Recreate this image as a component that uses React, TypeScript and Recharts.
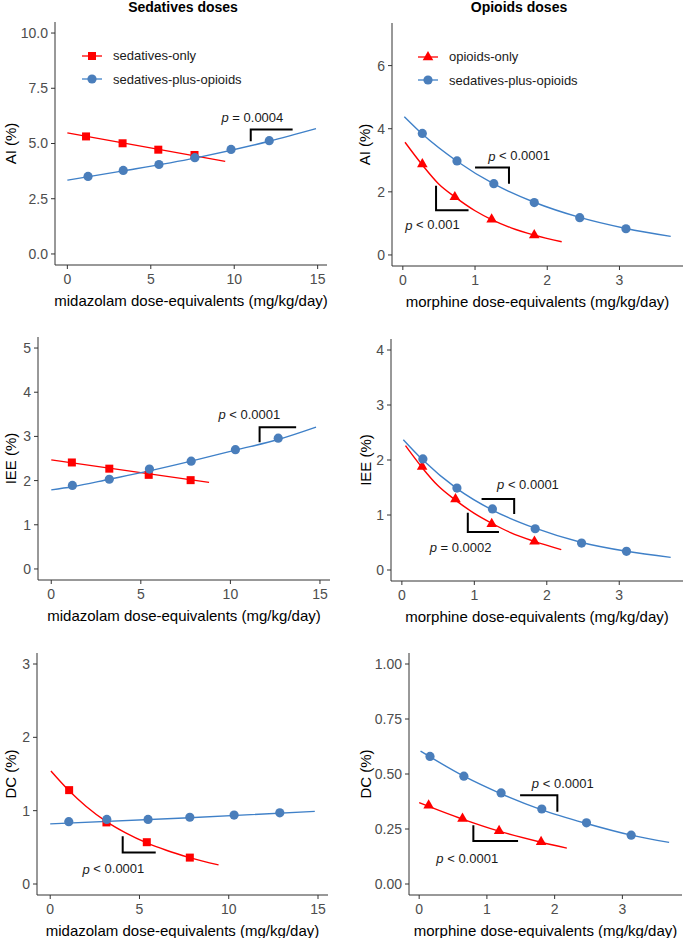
import { ComposedChart, Line, Scatter, XAxis, YAxis, Legend, ReferenceDot, Label } from 'recharts'

type Pt = [number, number]

const FONT = '"Liberation Sans", Arial, Helvetica, sans-serif'
const RED = '#ff0000'
const BLUE = '#4a7ebb'
const BLUE_LINE = '#3f80c8'
const AXIS = '#333333'
const TICK_TXT = '#4d4d4d'

// ---- AI, sedatives doses (top left)
const aiSedOnlyPts: Pt[] = [[1.12, 5.32], [3.31, 5.01], [5.45, 4.72], [7.62, 4.48]]
const aiSedOnlyFit: Pt[] = [[0, 5.48], [9.46, 4.19]]
const aiSedPlusPts: Pt[] = [[1.24, 3.51], [3.35, 3.78], [5.49, 4.05], [7.64, 4.36], [9.81, 4.73], [12.1, 5.13]]
const aiSedPlusFit: Pt[] = [[0, 3.34], [3.35, 3.76], [7.64, 4.34], [12.1, 5.1], [14.9, 5.67]]

// ---- AI, opioids doses (top right)
const aiOpiOnlyPts: Pt[] = [[0.27, 2.88], [0.72, 1.84], [1.23, 1.13], [1.82, 0.63]]
const aiOpiOnlyFit: Pt[] = [[0.03, 3.57], [0.27, 2.85], [0.5, 2.24], [0.72, 1.84], [1.0, 1.4], [1.23, 1.12], [1.5, 0.86], [1.82, 0.63], [2.2, 0.42]]
const aiOpiPlusPts: Pt[] = [[0.27, 3.85], [0.75, 2.98], [1.26, 2.26], [1.82, 1.66], [2.45, 1.18], [3.09, 0.83]]
const aiOpiPlusFit: Pt[] = [[0.02, 4.38], [0.27, 3.83], [0.75, 2.97], [1.26, 2.25], [1.82, 1.67], [2.45, 1.19], [3.09, 0.84], [3.71, 0.59]]

// ---- IEE, sedatives doses (middle left)
const ieeSedOnlyPts: Pt[] = [[1.15, 2.41], [3.24, 2.27], [5.44, 2.13], [7.78, 2.01]]
const ieeSedOnlyFit: Pt[] = [[0, 2.47], [8.81, 1.96]]
const ieeSedPlusPts: Pt[] = [[1.18, 1.89], [3.24, 2.03], [5.48, 2.26], [7.81, 2.44], [10.28, 2.7], [12.67, 2.96]]
const ieeSedPlusFit: Pt[] = [[0, 1.79], [1.18, 1.86], [3.24, 2.03], [5.48, 2.22], [7.81, 2.44], [10.28, 2.69], [12.67, 2.93], [14.78, 3.21]]

// ---- IEE, opioids doses (middle right)
const ieeOpiOnlyPts: Pt[] = [[0.28, 1.88], [0.74, 1.29], [1.24, 0.84], [1.83, 0.52]]
const ieeOpiOnlyFit: Pt[] = [[0.05, 2.26], [0.28, 1.86], [0.5, 1.53], [0.74, 1.27], [1.0, 1.03], [1.24, 0.85], [1.5, 0.68], [1.83, 0.52], [2.2, 0.37]]
const ieeOpiPlusPts: Pt[] = [[0.29, 2.02], [0.76, 1.49], [1.25, 1.11], [1.84, 0.75], [2.48, 0.49], [3.1, 0.34]]
const ieeOpiPlusFit: Pt[] = [[0.02, 2.37], [0.29, 2.0], [0.76, 1.48], [1.25, 1.09], [1.84, 0.76], [2.48, 0.5], [3.1, 0.34], [3.71, 0.23]]

// ---- DC, sedatives doses (bottom left)
const dcSedOnlyPts: Pt[] = [[1.06, 1.28], [3.15, 0.84], [5.41, 0.57], [7.82, 0.36]]
const dcSedOnlyFit: Pt[] = [[0.04, 1.54], [1.06, 1.27], [2.0, 1.06], [3.15, 0.85], [4.2, 0.7], [5.41, 0.56], [6.5, 0.46], [7.82, 0.36], [9.43, 0.26]]
const dcSedPlusPts: Pt[] = [[1.04, 0.85], [3.17, 0.88], [5.48, 0.88], [7.82, 0.91], [10.3, 0.94], [12.86, 0.97]]
const dcSedPlusFit: Pt[] = [[0, 0.82], [7.5, 0.9], [14.82, 0.99]]

// ---- DC, opioids doses (bottom right)
const dcOpiOnlyPts: Pt[] = [[0.14, 0.358], [0.64, 0.298], [1.18, 0.242], [1.8, 0.192]]
const dcOpiOnlyFit: Pt[] = [[0, 0.37], [0.64, 0.295], [1.18, 0.24], [1.8, 0.19], [2.18, 0.163]]
const dcOpiPlusPts: Pt[] = [[0.16, 0.58], [0.66, 0.49], [1.21, 0.414], [1.81, 0.341], [2.47, 0.278], [3.13, 0.222]]
const dcOpiPlusFit: Pt[] = [[0.02, 0.604], [0.66, 0.49], [1.21, 0.41], [1.81, 0.337], [2.47, 0.275], [3.13, 0.222], [3.69, 0.189]]

// p-value brackets and labels
const aiSedBrackets: Pt[][] = [[[10.99, 5.1], [10.99, 5.63], [13.5, 5.63]]]
const aiSedPText = [{ at: [11.09, 6.19] as Pt, text: ' = 0.0004' }]
const aiOpiBrackets: Pt[][] = [[[1.0, 2.77], [1.47, 2.77], [1.47, 2.26]], [[0.46, 2.19], [0.46, 1.42], [0.91, 1.42]]]
const aiOpiPText = [{ at: [1.61, 3.14] as Pt, text: ' < 0.0001' }, { at: [0.41, 0.95] as Pt, text: ' < 0.001' }]
const ieeSedBrackets: Pt[][] = [[[11.63, 2.87], [11.63, 3.21], [13.67, 3.21]]]
const ieeSedPText = [{ at: [11.06, 3.5] as Pt, text: ' < 0.0001' }]
const ieeOpiBrackets: Pt[][] = [[[1.1, 1.29], [1.55, 1.29], [1.55, 1.02]], [[0.91, 1.04], [0.91, 0.69], [1.34, 0.69]]]
const ieeOpiPText = [{ at: [1.74, 1.56] as Pt, text: ' < 0.0001' }, { at: [0.81, 0.41] as Pt, text: ' = 0.0002' }]
const dcSedBrackets: Pt[][] = [[[4.06, 0.65], [4.06, 0.43], [5.91, 0.43]]]
const dcSedPText = [{ at: [3.54, 0.21] as Pt, text: ' < 0.0001' }]
const dcOpiBrackets: Pt[][] = [[[1.49, 0.403], [2.04, 0.403], [2.04, 0.328]], [[0.8, 0.267], [0.8, 0.195], [1.46, 0.195]]]
const dcOpiPText = [{ at: [2.12, 0.459] as Pt, text: ' < 0.0001' }, { at: [0.71, 0.116] as Pt, text: ' < 0.0001' }]

// axes
const sedXTicks = [0, 5, 10, 15]
const opiXTicks = [0, 1, 2, 3]
const aiSedYTicks = [0, 2.5, 5, 7.5, 10]
const aiOpiYTicks = [0, 2, 4, 6]
const ieeSedYTicks = [0, 1, 2, 3, 4, 5]
const ieeOpiYTicks = [0, 1, 2, 3, 4]
const dcSedYTicks = [0, 1, 2, 3]
const dcOpiYTicks = [0, 0.25, 0.5, 0.75, 1]

const sedLabel = 'midazolam dose-equivalents (mg/kg/day)'
const opiLabel = 'morphine dose-equivalents (mg/kg/day)'

const toXY = (pts: Pt[]) => pts.map(([x, y]) => ({ x, y }))

type Kind = 'circle' | 'square' | 'triangle'

function Marker({ cx, cy, kind, color }: { cx: number; cy: number; kind: Kind; color: string }) {
  if (kind === 'circle') return <circle cx={cx} cy={cy} r={4.6} fill={color} />
  if (kind === 'square') return <rect x={cx - 4} y={cy - 4} width={8} height={8} fill={color} />
  return <polygon points={`${cx},${cy - 6} ${cx - 5.3},${cy + 3.2} ${cx + 5.3},${cy + 3.2}`} fill={color} />
}

interface LegendItem { name: string; color: string; kind: Kind }

function LegendBox({ items }: { items: LegendItem[] }) {
  return (
    <div style={{ fontFamily: FONT, fontSize: 13, color: '#1a1a1a' }}>
      {items.map((it) => (
        <div key={it.name} style={{ display: 'flex', alignItems: 'center', height: 23.5 }}>
          <svg width={20} height={14} style={{ display: 'block' }}>
            <line x1={0} y1={7} x2={20} y2={7} stroke={it.kind === 'circle' ? BLUE_LINE : RED} strokeWidth={1.3} />
            <Marker cx={10} cy={7} kind={it.kind} color={it.color} />
          </svg>
          <span style={{ marginLeft: 11, whiteSpace: 'nowrap' }}>{it.name}</span>
        </div>
      ))}
    </div>
  )
}

interface PanelProps {
  left: number; top: number; width: number; height: number
  margin: { top: number; right: number; bottom: number; left: number }
  yW: number; yTitleX: number
  xDomain: [number, number]; xTicks: number[]; xLabel: string
  yDomain: [number, number]; yTicks: number[]; yDigits: number; yLabel: string
  redPts: Pt[]; redFit: Pt[]; redKind: Kind; redName: string
  bluePts: Pt[]; blueFit: Pt[]
  brackets: Pt[][]; pTexts: { at: Pt; text: string }[]
  legend?: { left: number; top: number }
}

function Panel(p: PanelProps) {
  const items: LegendItem[] = [
    { name: p.redName, color: RED, kind: p.redKind },
    { name: 'sedatives-plus-opioids', color: BLUE, kind: 'circle' },
  ]
  return (
    <div style={{ position: 'absolute', left: p.left, top: p.top }}>
      <ComposedChart width={p.width} height={p.height} margin={p.margin}>
        <XAxis
          type="number" dataKey="x" domain={p.xDomain} ticks={p.xTicks} interval={0}
          allowDataOverflow height={40}
          axisLine={{ stroke: AXIS, strokeWidth: 1 }} tickLine={{ stroke: AXIS }}
          tickSize={4} tickMargin={5}
          tick={{ fontSize: 14, fill: TICK_TXT, fontFamily: FONT }}
          label={<Label content={(lp: any) => {
            const vb = lp.viewBox
            return (
              <text x={vb.x + vb.width / 2} y={vb.y + 35} textAnchor="middle" dominantBaseline="central"
                style={{ fontSize: 15 }} fontFamily={FONT} fill="#000">{p.xLabel}</text>
            )
          }} />}
        />
        <YAxis
          type="number" dataKey="y" domain={p.yDomain} ticks={p.yTicks} interval={0}
          allowDataOverflow width={p.yW}
          axisLine={{ stroke: AXIS, strokeWidth: 1 }} tickLine={{ stroke: AXIS }}
          tickSize={4} tickMargin={3}
          tickFormatter={(v: number) => v.toFixed(p.yDigits)}
          tick={{ fontSize: 14, fill: TICK_TXT, fontFamily: FONT }}
          label={<Label content={(lp: any) => {
            const vb = lp.viewBox
            const cy = vb.y + vb.height / 2
            return (
              <text x={p.yTitleX} y={cy} transform={`rotate(-90, ${p.yTitleX}, ${cy})`} textAnchor="middle"
                dominantBaseline="central" style={{ fontSize: 15 }} fontFamily={FONT} fill="#000">{p.yLabel}</text>
            )
          }} />}
        />
        <Line data={toXY(p.redFit)} dataKey="y" type="monotone" stroke={RED} strokeWidth={1.4}
          dot={false} activeDot={false} isAnimationActive={false} />
        <Line data={toXY(p.blueFit)} dataKey="y" type="monotone" stroke={BLUE_LINE} strokeWidth={1.4}
          dot={false} activeDot={false} isAnimationActive={false} />
        {p.brackets.map((b, i) => (
          <Line key={'br' + i} data={toXY(b)} dataKey="y" type="linear" stroke="#000" strokeWidth={2}
            dot={false} activeDot={false} isAnimationActive={false} />
        ))}
        <Scatter data={toXY(p.redPts)} dataKey="y" isAnimationActive={false}
          shape={(sp: any) => <Marker cx={sp.cx} cy={sp.cy} kind={p.redKind} color={RED} />} />
        <Scatter data={toXY(p.bluePts)} dataKey="y" isAnimationActive={false}
          shape={(sp: any) => <Marker cx={sp.cx} cy={sp.cy} kind="circle" color={BLUE} />} />
        {p.pTexts.map((t, i) => (
          <ReferenceDot key={'pt' + i} x={t.at[0]} y={t.at[1]} r={0} fill="none" stroke="none"
            label={<Label content={(lp: any) => {
              const vb = lp.viewBox
              return (
                <text x={vb.x + vb.width / 2} y={vb.y + vb.height / 2} textAnchor="middle" dominantBaseline="central"
                  fontSize={13} fontFamily={FONT} fill="#1a1a1a">
                  <tspan fontStyle="italic">p</tspan>{t.text}
                </text>
              )
            }} />}
          />
        ))}
        {p.legend && (
          <Legend layout="horizontal" verticalAlign="middle" align="center"
            wrapperStyle={{ left: p.legend.left, top: p.legend.top, width: 'auto', height: 'auto' }}
            content={() => <LegendBox items={items} />} />
        )}
      </ComposedChart>
    </div>
  )
}

const sedX: [number, number] = [-0.74, 15.56]
const opiX: [number, number] = [-0.15, 3.88]

export default function App() {
  return (
    <div style={{ position: 'absolute', left: 0, top: 0, width: 685, height: 938, background: '#fff', overflow: 'hidden' }}>
      <div style={{ position: 'absolute', left: 83, top: -1, width: 200, textAlign: 'center', fontFamily: FONT, fontSize: 14, fontWeight: 'bold', lineHeight: '16px' }}>
        Sedatives doses
      </div>
      <div style={{ position: 'absolute', left: 419, top: -1, width: 200, textAlign: 'center', fontFamily: FONT, fontSize: 14, fontWeight: 'bold', lineHeight: '16px' }}>
        Opioids doses
      </div>

      <Panel left={0} top={0} width={342} height={315} margin={{ top: 22, right: 15, bottom: 10, left: 4 }}
        yW={51} yTitleX={10} xDomain={sedX} xTicks={sedXTicks} xLabel={sedLabel}
        yDomain={[-0.5, 10.5]} yTicks={aiSedYTicks} yDigits={1} yLabel="AI (%)"
        redPts={aiSedOnlyPts} redFit={aiSedOnlyFit} redKind="square" redName="sedatives-only"
        bluePts={aiSedPlusPts} blueFit={aiSedPlusFit}
        brackets={aiSedBrackets} pTexts={aiSedPText} legend={{ left: 82, top: 44 }} />

      <Panel left={342} top={0} width={343} height={315} margin={{ top: 23, right: 2, bottom: 9, left: 4 }}
        yW={46} yTitleX={22} xDomain={opiX} xTicks={opiXTicks} xLabel={opiLabel}
        yDomain={[-0.35, 7.35]} yTicks={aiOpiYTicks} yDigits={0} yLabel="AI (%)"
        redPts={aiOpiOnlyPts} redFit={aiOpiOnlyFit} redKind="triangle" redName="opioids-only"
        bluePts={aiOpiPlusPts} blueFit={aiOpiPlusFit}
        brackets={aiOpiBrackets} pTexts={aiOpiPText} legend={{ left: 76, top: 45 }} />

      <Panel left={0} top={310} width={342} height={315} margin={{ top: 27, right: 12, bottom: 5, left: 4 }}
        yW={34} yTitleX={10} xDomain={sedX} xTicks={sedXTicks} xLabel={sedLabel}
        yDomain={[-0.25, 5.25]} yTicks={ieeSedYTicks} yDigits={0} yLabel="IEE (%)"
        redPts={ieeSedOnlyPts} redFit={ieeSedOnlyFit} redKind="square" redName="sedatives-only"
        bluePts={ieeSedPlusPts} blueFit={ieeSedPlusFit}
        brackets={ieeSedBrackets} pTexts={ieeSedPText} />

      <Panel left={342} top={310} width={343} height={315} margin={{ top: 29, right: 2, bottom: 4, left: 4 }}
        yW={45} yTitleX={23} xDomain={opiX} xTicks={opiXTicks} xLabel={opiLabel}
        yDomain={[-0.2, 4.2]} yTicks={ieeOpiYTicks} yDigits={0} yLabel="IEE (%)"
        redPts={ieeOpiOnlyPts} redFit={ieeOpiOnlyFit} redKind="triangle" redName="opioids-only"
        bluePts={ieeOpiPlusPts} blueFit={ieeOpiPlusFit}
        brackets={ieeOpiBrackets} pTexts={ieeOpiPText} />

      <Panel left={0} top={620} width={342} height={318} margin={{ top: 33, right: 14, bottom: 3, left: 4 }}
        yW={33} yTitleX={10} xDomain={sedX} xTicks={sedXTicks} xLabel={sedLabel}
        yDomain={[-0.15, 3.15]} yTicks={dcSedYTicks} yDigits={0} yLabel="DC (%)"
        redPts={dcSedOnlyPts} redFit={dcSedOnlyFit} redKind="square" redName="sedatives-only"
        bluePts={dcSedPlusPts} blueFit={dcSedPlusFit}
        brackets={dcSedBrackets} pTexts={dcSedPText} />

      <Panel left={342} top={620} width={343} height={318} margin={{ top: 33, right: 3, bottom: 3, left: 4 }}
        yW={63} yTitleX={23} xDomain={opiX} xTicks={opiXTicks} xLabel={opiLabel}
        yDomain={[-0.05, 1.05]} yTicks={dcOpiYTicks} yDigits={2} yLabel="DC (%)"
        redPts={dcOpiOnlyPts} redFit={dcOpiOnlyFit} redKind="triangle" redName="opioids-only"
        bluePts={dcOpiPlusPts} blueFit={dcOpiPlusFit}
        brackets={dcOpiBrackets} pTexts={dcOpiPText} />
    </div>
  )
}
